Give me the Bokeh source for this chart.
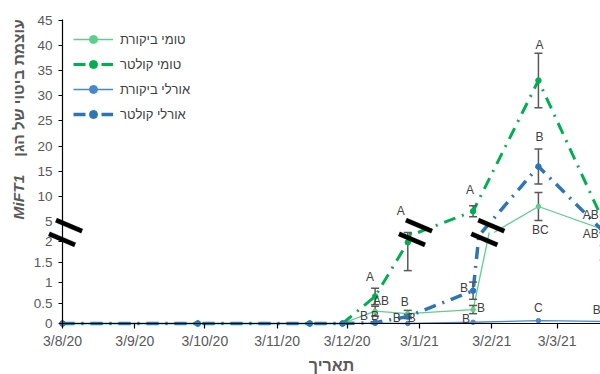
import numpy as np
import pandas as pd
from bokeh.plotting import figure
from bokeh.core.properties import value
from bokeh.models import (ColumnDataSource, Range1d, FixedTicker, Label, LabelSet,
                          Legend, LegendItem, PolyAnnotation)
from bokeh.embed import file_html
from bokeh.resources import INLINE

# ---------------------------------------------------------------- data
DATES = ["2020-08-03", "2020-09-30", "2020-11-17", "2020-12-01", "2020-12-15",
         "2020-12-29", "2021-01-26", "2021-02-23", "2021-03-23"]

SERIES_NAMES = ["טומי ביקורת", "טומי קולטר", "אורלי ביקורת", "אורלי קולטר"]

TOMMY_CONTROL = [0, 0, 0, 0, 0.30, 0.24, 0.34, 7.95, 3.33]
TOMMY_CONTROL_ERR = [0, 0, 0, 0, 0.12, 0.08, 0.10, 2.80, 1.79]
TOMMY_CONTROL_LETTERS = ["", "", "", "", "AB", "B", "B", "BC", "AB"]

TOMMY_CULTAR = [0, 0, 0, 0, 0.66, 1.98, 7.01, 33.05, 4.84]
TOMMY_CULTAR_ERR = [0, 0, 0, 0, 0.20, 0.69, 1.10, 5.44, 1.50]
TOMMY_CULTAR_LETTERS = ["", "", "", "", "A", "A", "A", "A", "AB"]

ORLY_CONTROL = [0, 0, 0, 0, 0.01, 0.00, 0.03, 0.07, 0.05]
ORLY_CONTROL_ERR = [0, 0, 0, 0, 0, 0, 0, 0, 0]
ORLY_CONTROL_LETTERS = ["", "", "", "", "B", "B", "B", "C", "B"]

ORLY_CULTAR = [0, 0, 0, 0, 0.02, 0.17, 0.80, 15.92, 2.90]
ORLY_CULTAR_ERR = [0, 0, 0, 0, 0, 0.05, 0.21, 3.50, 1.00]
ORLY_CULTAR_LETTERS = ["", "", "", "", "B", "B", "B", "B", ""]

X_TICK_DATES = ["2020-08-03", "2020-09-03", "2020-10-03", "2020-11-03",
                "2020-12-03", "2021-01-03", "2021-02-03", "2021-03-03"]
X_TICK_LABELS = ["3/8/20", "3/9/20", "3/10/20", "3/11/20", "3/12/20",
                 "3/1/21", "3/2/21", "3/3/21"]
Y_TICKS_LOWER = [0, 0.5, 1, 1.5, 2]
Y_TICKS_UPPER = [5, 10, 15, 20, 25, 30, 35, 40, 45]

Y_TITLE = "עוצמת ביטוי של הגן"
Y_TITLE_GENE = "MiFT1"
X_TITLE = "תאריך"

# ---------------------------------------------------------------- geometry
W, H = 600, 374
LEFT_PX, BOTTOM_PX, TOP_PX = 62, 51, 19   # where the two axes sit on the canvas
PX_PER_DAY = 2.333
PX_PER_UNIT = 41.0                   # lower segment (0..2)
UPPER_BASE = 102.2 / PX_PER_UNIT     # height of the "5" tick
UPPER_SLOPE = 5.02 / PX_PER_UNIT     # upper segment (5..45)
SPLIT = 91.0 / PX_PER_UNIT           # seam between the two segments
DAY_MS = 86400000.0
INF = float("inf")


def to_ms(d):
    return pd.Timestamp(d).value / 1e6


def upper(v):
    return UPPER_BASE + (v - 5.0) * UPPER_SLOPE


def place(v):
    return v if v <= SPLIT else upper(v)


def clip_band(xs, ys, lo, hi):
    """Split a polyline into the pieces that lie inside lo <= y <= hi."""
    out_x, out_y = [], []
    cx, cy = [], []

    def flush():
        if len(cx) > 1:
            out_x.append(list(cx))
            out_y.append(list(cy))
        cx.clear()
        cy.clear()

    for i in range(len(xs) - 1):
        xa, ya, xb, yb = xs[i], ys[i], xs[i + 1], ys[i + 1]
        if ya == yb:
            t0, t1 = (0.0, 1.0) if lo <= ya <= hi else (1.0, 0.0)
        else:
            ta, tb = (lo - ya) / (yb - ya), (hi - ya) / (yb - ya)
            t0, t1 = max(0.0, min(ta, tb)), min(1.0, max(ta, tb))
        if t0 > t1:
            flush()
            continue
        if t0 > 0 or not cx:
            flush()
            cx.append(xa + t0 * (xb - xa))
            cy.append(ya + t0 * (yb - ya))
        cx.append(xa + t1 * (xb - xa))
        cy.append(ya + t1 * (yb - ya))
        if t1 < 1:
            flush()
    flush()
    return out_x, out_y


x_dates = [to_ms(d) for d in DATES]
x_start = to_ms(X_TICK_DATES[0])
x_lo = x_start - LEFT_PX / PX_PER_DAY * DAY_MS
x_hi = x_start + (W - LEFT_PX) / PX_PER_DAY * DAY_MS
y_lo = -BOTTOM_PX / PX_PER_UNIT
y_hi = (H - BOTTOM_PX) / PX_PER_UNIT
y_axis_top = (H - BOTTOM_PX - TOP_PX) / PX_PER_UNIT

# the frame fills the canvas; both axes are pinned at the data origin
p = figure(width=W, height=H, output_backend="svg", toolbar_location=None,
           x_axis_type="datetime",
           x_range=Range1d(x_lo, x_hi), y_range=Range1d(y_lo, y_hi),
           min_border=0)
p.outline_line_color = None
p.grid.visible = False
p.background_fill_color = "white"

FONT = "Liberation Sans"
GREY = "#595959"

tick_ms = [int(to_ms(d)) for d in X_TICK_DATES]
p.xaxis.ticker = FixedTicker(ticks=tick_ms)
p.xaxis.major_label_overrides = {t: lab for t, lab in zip(tick_ms, X_TICK_LABELS)}
p.xaxis.fixed_location = 0
p.xaxis.bounds = (x_start, x_hi)

y_ticks = list(Y_TICKS_LOWER) + [upper(v) for v in Y_TICKS_UPPER]
y_labels = [f"{v:g}" for v in Y_TICKS_LOWER + Y_TICKS_UPPER]
p.yaxis.ticker = FixedTicker(ticks=y_ticks)
p.yaxis.major_label_overrides = {t: lab for t, lab in zip(y_ticks, y_labels)}
p.yaxis.fixed_location = x_start
p.yaxis.bounds = (0, y_axis_top)

for ax in (p.xaxis[0], p.yaxis[0]):
    ax.axis_line_color = "black"
    ax.axis_line_width = 1.2
    ax.major_tick_line_color = "black"
    ax.major_tick_line_width = 1.2
    ax.major_tick_in = 0
    ax.minor_tick_out = 0
    ax.minor_tick_in = 0
    ax.major_label_text_font = FONT
    ax.major_label_text_color = GREY
p.xaxis.major_tick_out = 5
p.xaxis.major_label_standoff = 4
p.xaxis.major_label_text_font_size = "14px"
p.yaxis.major_tick_out = 4
p.yaxis.major_label_standoff = 6
p.yaxis.major_label_text_font_size = "13.5px"

# ---------------------------------------------------------------- series
series = [
    (TOMMY_CONTROL, TOMMY_CONTROL_ERR, TOMMY_CONTROL_LETTERS),
    (TOMMY_CULTAR, TOMMY_CULTAR_ERR, TOMMY_CULTAR_LETTERS),
    (ORLY_CONTROL, ORLY_CONTROL_ERR, ORLY_CONTROL_LETTERS),
    (ORLY_CULTAR, ORLY_CULTAR_ERR, ORLY_CULTAR_LETTERS),
]
styles = [
    dict(color="#5CCF8A", width=1.3, dash="solid", size=4.5),
    dict(color="#00B050", width=3.0, dash="12 7 2 7", size=5.5),
    dict(color="#4A86C8", width=1.3, dash="solid", size=4.5),
    dict(color="#2E75B6", width=3.5, dash="12 7 2 7", size=5.5),
]
# letter placement (pixels right / up of each point)
letter_dx = [
    [0, 0, 0, 0, 6, -3, 8, 2, -13],
    [0, 0, 0, 0, -5, -7, -3, 1, -13],
    [0, 0, 0, 0, -11, 4, -7, 0, -7],
    [0, 0, 0, 0, 0, -11, -9, 1, 0],
]
letter_dy = [
    [0, 0, 0, 0, 10, 12, 2, -24, -4],
    [0, 0, 0, 0, 19, 31, 21, 35, 7],
    [0, 0, 0, 0, 7, 6, 3.5, 13, 11],
    [0, 0, 0, 0, 7, -1, 3, 29, 0],
]

cap_ms = 4.0 / PX_PER_DAY * DAY_MS
err_seg = dict(x0=[], y0=[], x1=[], y1=[])
line_renderers, marker_renderers = [], []
letters = dict(x=[], y=[], text=[], dx=[], dy=[])

for (vals, errs, lets), st, ldx, ldy in zip(series, styles, letter_dx, letter_dy):
    vals = [float(v) for v in vals]
    # lower part of the broken axis, then the upper part
    lx, ly = clip_band(x_dates, vals, -INF, SPLIT)
    ux, uy = clip_band(x_dates, [upper(v) for v in vals], SPLIT, INF)
    r = p.multi_line(xs=lx + ux, ys=ly + uy, line_color=st["color"],
                     line_width=st["width"], line_dash=st["dash"])
    line_renderers.append(r)

    for x, v, e in zip(x_dates, vals, errs):
        if e <= 0:
            continue
        spans = []
        if v - e <= SPLIT:
            spans.append((v - e, min(v + e, SPLIT)))
        if upper(v + e) >= SPLIT:
            spans.append((max(upper(v - e), SPLIT), upper(v + e)))
        for a, b in spans:
            err_seg["x0"] += [x, x - cap_ms, x - cap_ms]
            err_seg["x1"] += [x, x + cap_ms, x + cap_ms]
            err_seg["y0"] += [a, a, b]
            err_seg["y1"] += [b, a, b]

    for x, v, t, dx, dy in zip(x_dates, vals, lets, ldx, ldy):
        if t:
            letters["x"].append(x)
            letters["y"].append(place(v))
            letters["text"].append(t)
            letters["dx"].append(dx)
            letters["dy"].append(dy)

p.segment(x0="x0", y0="y0", x1="x1", y1="y1", source=ColumnDataSource(err_seg),
          line_color="#595959", line_width=1.5)

for (vals, errs, lets), st in zip(series, styles):
    mx = [x for x, v in zip(x_dates, vals) if v <= SPLIT or upper(v) >= SPLIT]
    my = [place(float(v)) for v in vals if v <= SPLIT or upper(v) >= SPLIT]
    m = p.scatter(mx, my, size=st["size"], marker="circle",
                  fill_color=st["color"], line_color=st["color"])
    marker_renderers.append(m)

# break marks on the axis and across the lines: two thick slanted strokes each
mark_centres = [x_start + 1.3 * DAY_MS, to_ms("2021-01-01") + 0.3 * DAY_MS,
                to_ms("2021-02-01") + 0.3 * DAY_MS]
half_len = np.array([13.0, -5.5])            # px, right / up
ux_, uy_ = half_len / np.hypot(*half_len)
thick = 2.3                                   # half stroke width, px
nx, ny = -uy_ * thick, ux_ * thick
for c in mark_centres:
    for sgn in (1, -1):
        cxp, cyp = sgn * 3.5, sgn * 6.8       # stroke centre offset, px
        corners = [(cxp - half_len[0] + nx, cyp - half_len[1] + ny),
                   (cxp + half_len[0] + nx, cyp + half_len[1] + ny),
                   (cxp + half_len[0] - nx, cyp + half_len[1] - ny),
                   (cxp - half_len[0] - nx, cyp - half_len[1] - ny)]
        p.add_layout(PolyAnnotation(
            xs=[c + dx / PX_PER_DAY * DAY_MS for dx, _ in corners],
            ys=[SPLIT + dy / PX_PER_UNIT for _, dy in corners],
            fill_color="black", fill_alpha=1, line_color="black", line_width=0.5))

p.add_layout(LabelSet(x="x", y="y", text="text", x_offset="dx", y_offset="dy",
                      source=ColumnDataSource(letters), text_align="center",
                      text_baseline="middle", text_font=value(FONT),
                      text_font_size=value("12px"), text_color="#404040"))

legend = Legend(items=[LegendItem(label=n, renderers=[lr, mr])
                       for n, lr, mr in zip(SERIES_NAMES, line_renderers, marker_renderers)],
                location=(68, 245), glyph_width=40, glyph_height=20, label_height=20,
                spacing=5, padding=5, margin=0, label_standoff=7,
                label_text_font=FONT, label_text_font_size="13px",
                label_text_color="#404040", background_fill_alpha=0,
                border_line_alpha=0)
p.add_layout(legend)

# axis titles (screen positions from the canvas' bottom-left)
title_style = dict(x_units="screen", y_units="screen", text_align="center",
                   text_baseline="middle", text_font=FONT, text_color=GREY)
p.add_layout(Label(x=18, y=H - 87.5, angle=np.pi / 2, text=Y_TITLE,
                   text_font_size="15.5px", text_font_style="bold", **title_style))
p.add_layout(Label(x=18, y=H - 196.5, angle=np.pi / 2, text=Y_TITLE_GENE,
                   text_font_size="15.5px", text_font_style="bold italic", **title_style))
p.add_layout(Label(x=331, y=H - 365, text=X_TITLE, text_font_size="16px",
                   text_font_style="bold", **title_style))

open("out.html", "w").write(file_html(p, INLINE))
